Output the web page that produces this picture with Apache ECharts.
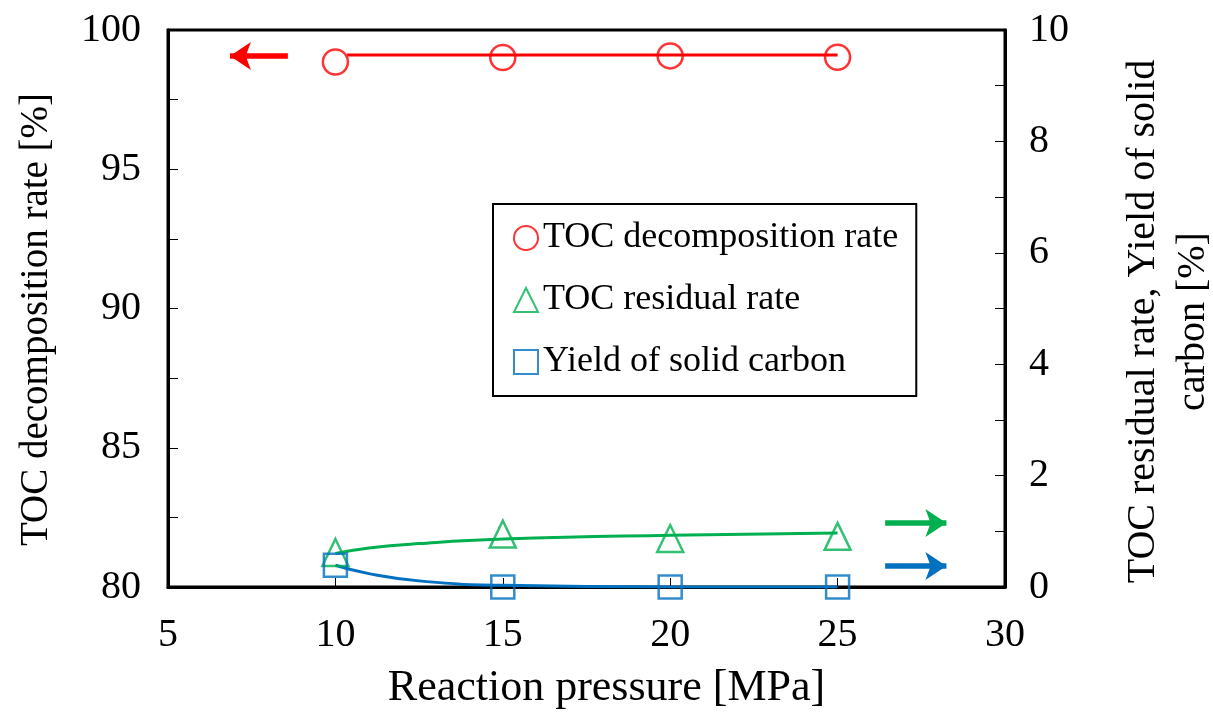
<!DOCTYPE html>
<html>
<head>
<meta charset="utf-8">
<script src="https://cdn.jsdelivr.net/npm/echarts@6/dist/echarts.min.js"></script>
<style>
  html, body { margin: 0; padding: 0; background: #fff; }
  #chart { width: 1213px; height: 713px; }
</style>
</head>
<body>
<div id="chart"></div>
<script>
// Reaction pressure [MPa]
const pressure = [10, 15, 20, 25];

// Measured values
const tocDecomposition = [98.85, 99.01, 99.07, 99.02];   // left axis, %
const tocResidual      = [0.62, 0.95, 0.87, 0.91];       // right axis, %
const solidCarbonYield = [0.39, 0.0, 0.0, 0.0];          // right axis, %

// Trend curves (pressure, value)
const decompTrend   = [[10.35, 99.1], [25, 99.1]];
const residualTrend = [[10, 0.6], [11, 0.7], [12.5, 0.78], [15, 0.86], [20, 0.93], [25, 0.97]];
const yieldTrend    = [[10, 0.39], [11, 0.24], [12.5, 0.11], [15, 0.03], [20, 0.0], [25, 0.0]];

// Axis direction arrows: [x start, x end, y]
const leftArrow     = [8.58, 6.85, 99.07];
const residualArrow = [26.42, 28.25, 1.15];
const yieldArrow    = [26.42, 28.25, 0.377];

const RED = '#FF0000', GREEN = '#00B050', BLUE = '#0070C0';
const FONT = '"Liberation Serif", "Times New Roman", serif';

const zip = (xs, ys) => xs.map((x, i) => [x, ys[i]]);

function arrowLine(a, color) {
  return {
    silent: true,
    symbol: ['none', 'arrow'],
    symbolSize: [21, 21],
    label: { show: false },
    lineStyle: { color: color, width: 5.5, type: 'solid' },
    emphasis: { disabled: true },
    data: [[{ coord: [a[0], a[2]] }, { coord: [a[1], a[2]] }]]
  };
}

const chart = echarts.init(document.getElementById('chart'), null, { renderer: 'canvas' });

const axisText = { color: '#000', fontFamily: FONT, fontSize: 40 };

chart.setOption({
  animation: false,
  backgroundColor: '#fff',
  grid: {
    left: 168, right: 208, top: 30, bottom: 126,
    outerBoundsMode: 'none', containLabel: false,
    show: true, borderColor: '#000', borderWidth: 3, backgroundColor: 'transparent'
  },
  legend: {
    orient: 'vertical',
    left: 493, top: 204,
    padding: [16, 18, 16, 20],
    itemGap: 26,
    itemWidth: 24, itemHeight: 24,
    borderColor: '#000', borderWidth: 2,
    backgroundColor: '#fff',
    textStyle: { color: '#000', fontFamily: FONT, fontSize: 36, padding: [0, 0, 0, 0] },
    data: ['TOC decomposition rate', 'TOC residual rate', 'Yield of solid carbon']
  },
  xAxis: {
    type: 'value', min: 5, max: 30, interval: 5,
    name: 'Reaction pressure [MPa]', nameLocation: 'middle', nameGap: 79,
    nameTextStyle: { color: '#000', fontFamily: FONT, fontSize: 44, padding: [0, 0, 0, 40] },
    axisLine: { show: true, lineStyle: { color: '#000', width: 3 } },
    axisTick: { show: true, inside: true, length: 9, lineStyle: { color: '#000', width: 1 } },
    axisLabel: Object.assign({ margin: 28 }, axisText),
    splitLine: { show: false }
  },
  yAxis: [
    {
      type: 'value', min: 80, max: 100, interval: 5, position: 'left',
      name: 'TOC decomposition rate [%]', nameLocation: 'middle', nameGap: 112,
      nameTextStyle: { color: '#000', fontFamily: FONT, fontSize: 39, padding: [0, 22, 0, 0] },
      axisLine: { show: true, lineStyle: { color: '#000', width: 3 } },
      axisTick: { show: true, inside: true, length: 10, lineStyle: { color: '#000', width: 1 } },
      minorTick: { show: true, splitNumber: 2, length: 10, lineStyle: { color: '#000', width: 1 } },
      axisLabel: Object.assign({ margin: 27 }, axisText),
      splitLine: { show: false }
    },
    {
      type: 'value', min: 0, max: 10, interval: 2, position: 'right',
      name: 'TOC residual rate, Yield of solid\ncarbon [%]', nameLocation: 'middle', nameGap: 113,
      nameRotate: 90,
      nameTextStyle: { color: '#000', fontFamily: FONT, fontSize: 40, lineHeight: 50, padding: [0, 26, 0, 0] },
      axisLine: { show: true, lineStyle: { color: '#000', width: 3 } },
      axisTick: { show: true, inside: true, length: 10, lineStyle: { color: '#000', width: 1 } },
      minorTick: { show: true, splitNumber: 2, length: 10, lineStyle: { color: '#000', width: 1 } },
      axisLabel: Object.assign({ margin: 24 }, axisText),
      splitLine: { show: false }
    }
  ],
  series: [
    {
      name: 'decompTrend', type: 'line', yAxisIndex: 0, data: decompTrend,
      showSymbol: false, silent: true, lineStyle: { color: RED, width: 3 }, z: 2,
      markLine: arrowLine(leftArrow, RED)
    },
    {
      name: 'residualTrend', type: 'line', yAxisIndex: 1, data: residualTrend, smooth: true,
      showSymbol: false, silent: true, lineStyle: { color: GREEN, width: 3 }, z: 2,
      markLine: arrowLine(residualArrow, GREEN)
    },
    {
      name: 'yieldTrend', type: 'line', yAxisIndex: 1, data: yieldTrend, smooth: true,
      showSymbol: false, silent: true, lineStyle: { color: BLUE, width: 3 }, z: 2,
      markLine: arrowLine(yieldArrow, BLUE)
    },
    {
      name: 'TOC decomposition rate', type: 'scatter', yAxisIndex: 0,
      data: zip(pressure, tocDecomposition),
      symbol: 'circle', symbolSize: 25,
      itemStyle: { color: 'rgba(0,0,0,0)', borderColor: RED, borderWidth: 2.5 }, z: 3
    },
    {
      name: 'TOC residual rate', type: 'scatter', yAxisIndex: 1,
      data: zip(pressure, tocResidual),
      symbol: 'triangle', symbolSize: [26, 27],
      itemStyle: { color: 'rgba(0,0,0,0)', borderColor: GREEN, borderWidth: 2.5 }, z: 3
    },
    {
      name: 'Yield of solid carbon', type: 'scatter', yAxisIndex: 1,
      data: zip(pressure, solidCarbonYield),
      symbol: 'rect', symbolSize: 23,
      itemStyle: { color: 'rgba(0,0,0,0)', borderColor: BLUE, borderWidth: 2.5 }, z: 3
    }
  ]
});
</script>
</body>
</html>
